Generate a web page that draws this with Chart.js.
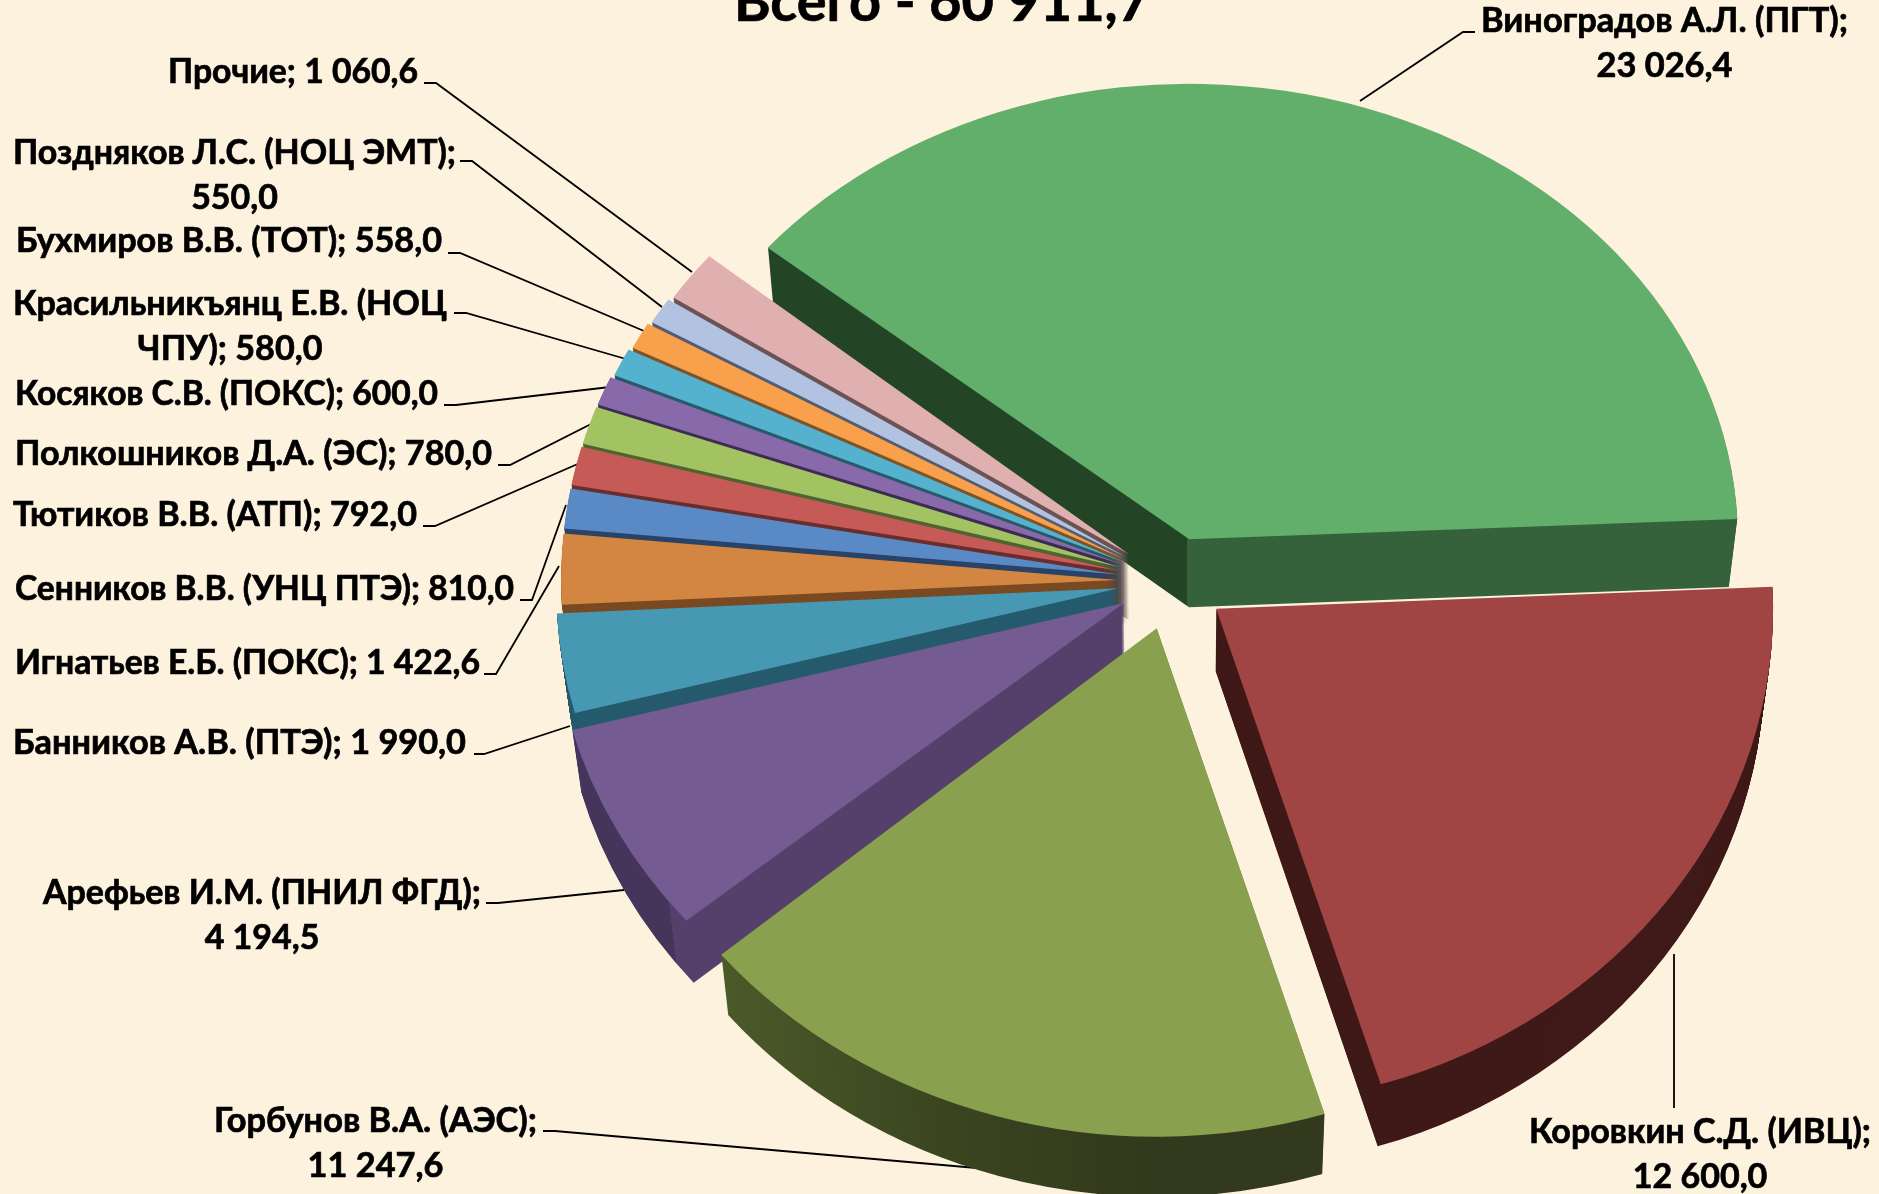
<!DOCTYPE html>
<html>
<head>
<meta charset="utf-8">
<style>
  html, body { margin: 0; padding: 0; background: #fdf2de; overflow: hidden; }
  canvas { display: block; }
</style>
<script src="https://cdn.jsdelivr.net/npm/chart.js@4"></script>
</head>
<body>
<canvas id="myChart" width="1879" height="1194"></canvas>
<script>
  // Chart data
  const categories = ['Виноградов А.Л. (ПГТ)', 'Коровкин С.Д. (ИВЦ)', 'Горбунов В.А. (АЭС)', 'Арефьев И.М. (ПНИЛ ФГД)',
    'Банников А.В. (ПТЭ)', 'Игнатьев Е.Б. (ПОКС)', 'Сенников В.В. (УНЦ ПТЭ)', 'Тютиков В.В. (АТП)',
    'Полкошников Д.А. (ЭС)', 'Косяков С.В. (ПОКС)', 'Красильникъянц Е.В. (НОЦ ЧПУ)', 'Бухмиров В.В. (ТОТ)',
    'Поздняков Л.С. (НОЦ ЭМТ)', 'Прочие'];
  const values = [23026.4, 12600.0, 11247.6, 4194.5, 1990.0, 1422.6, 810.0, 792.0, 780.0, 600.0, 580.0, 558.0, 550.0, 1060.6];
  const chartTitle = 'Всего - 60 911,7';

  // Slice colours
  const topColors = ['#62ae6b', '#a04543', '#89a14f', '#745b91', '#4798b3', '#d38542', '#5a8ac6',
    '#c55a57', '#a3c261', '#8869a9', '#55b2cf', '#f9a04c', '#b2c3e2', '#e0afaf'];
  const wallColors = ['#35623b', '#3f1a18', '#33391c', '#553f6b', '#265b6d', '#7a4a22', '#2a4468',
    '#6a2e2c', '#4f6530', '#3d2c55', '#275b6b', '#7f5428', '#545e70', '#6c5356'];
  // Walls that change colour across the picture: [canvas x, colour]
  const wallStops = {
    0: [[1187, '#234526'], [1187, '#35623b']],
    2: [[713, '#4c5b2a'], [950, '#3a4520'], [1150, '#33391c']],
    3: [[680, '#45355a'], [680, '#553f6b']]
  };

  // Where the pie sits and how it is tilted
  const explode = 54;
  const tiltMid = 0.865;
  const tiltRange = 0.05;
  const depthMid = 64;
  const depthRange = 4;
  const wallShrink = 0.015;
  // Perspective makes the far slices narrower than the near ones
  const sliceWidths = [0.985, 1, 1.02, 1.025, 1.01, 1, 1, 1, 1, 1, 0.995, 0.99, 0.985, 0.98];
  const drawOrder = [0, 13, 12, 11, 10, 9, 8, 7, 6, 5, 4, 3, 2, 1];

  // Label layout: left, right, first baseline, break text (same order as categories)
  const labelBoxes = [
    [1481, 1848, 32, '; '], [1529, 1871, 1143, '; '], [214, 537, 1132, '; '], [43, 481, 904, '; '],
    [13, 466, 754], [15, 480, 674], [15, 514, 600], [13, 417, 526], [15, 492, 465], [15, 438, 405],
    [13, 447, 315, 'НОЦ '], [16, 442, 252], [13, 456, 164, '; '], [168, 418, 83]
  ];
  // Leader lines: points of each polyline
  const leaders = [
    [[1475, 32], [1463, 32], [1360, 101]], [[1674, 1108], [1674, 954]], [[543, 1131], [555, 1131], [988, 1169]],
    [[486, 903], [498, 903], [624, 890]], [[474, 754], [484, 754], [570, 726]], [[484, 674], [496, 674], [559, 566]],
    [[520, 600], [532, 600], [566, 505]], [[423, 526], [435, 526], [580, 463]], [[498, 465], [510, 465], [595, 422]],
    [[444, 405], [456, 405], [610, 387]], [[454, 313], [466, 313], [626, 359]], [[448, 253], [460, 253], [644, 331]],
    [[460, 161], [472, 161], [662, 307]], [[424, 83], [436, 83], [692, 272]]
  ];

  // Format 1060.6 as 1 060,6
  function formatValue(v) {
    const parts = v.toFixed(1).split('.');
    return parts[0].replace(/\B(?=(\d{3})+$)/g, ' ') + ',' + parts[1];
  }

  function labelLines(i) {
    const text = categories[i] + '; ' + formatValue(values[i]);
    const brk = labelBoxes[i][3];
    if (!brk) return [text];
    const at = text.indexOf(brk) + brk.length - 1;
    return [text.slice(0, at), text.slice(at + 1)];
  }

  function wallFill(ctx, i, dx) {
    const stops = wallStops[i];
    if (!stops) return wallColors[i];
    const w = ctx.canvas.width;
    const g = ctx.createLinearGradient(-dx, 0, w - dx, 0);
    stops.forEach(s => g.addColorStop(s[0] / w, s[1]));
    return g;
  }

  // Draws one arc of the library with the pie tilt applied
  function drawSlice(ctx, arc, i) {
    const mid = (arc.startAngle + arc.endAngle) / 2;
    const k = tiltMid + tiltRange * Math.sin(mid);
    const depth = Math.round(depthMid - depthRange * Math.sin(mid));
    const dx = Math.cos(mid) * explode;
    const dy = Math.sin(mid) * explode;
    const topOptions = arc.options;

    arc.options = Object.assign({}, topOptions, { backgroundColor: wallFill(ctx, i, dx) });
    for (let s = depth; s >= 0; s--) {
      if (s === 0) arc.options = topOptions;
      const xs = 1 - wallShrink * s / depth;
      ctx.save();
      ctx.translate(arc.x, arc.y + s);
      ctx.scale(xs, k);
      ctx.translate(dx, dy);
      ctx.scale(sliceWidths[i], 1);
      ctx.translate(-arc.x, -arc.y);
      arc.draw(ctx);
      ctx.restore();
    }
  }

  const tiltedPie = {
    id: 'tiltedPie',
    beforeDatasetDraw(chart) {
      const ctx = chart.ctx;
      const arcs = chart.getDatasetMeta(0).data;

      // Leader lines go under the slices
      ctx.save();
      ctx.strokeStyle = '#000';
      ctx.lineWidth = 1.8;
      leaders.forEach(pts => {
        ctx.beginPath();
        pts.forEach((p, n) => n ? ctx.lineTo(p[0], p[1]) : ctx.moveTo(p[0], p[1]));
        ctx.stroke();
      });
      ctx.restore();

      drawOrder.forEach(i => drawSlice(ctx, arcs[i], i));

      // Data labels
      ctx.save();
      ctx.fillStyle = '#000';
      ctx.strokeStyle = '#000';
      ctx.lineWidth = 0.7;
      ctx.font = 'bold 34px Lato';
      ctx.textAlign = 'center';
      ctx.textBaseline = 'alphabetic';
      categories.forEach((c, i) => {
        const box = labelBoxes[i];
        const lines = labelLines(i);
        const widest = Math.max(...lines.map(l => ctx.measureText(l).width));
        const sx = (box[1] - box[0]) / widest;
        lines.forEach((line, n) => {
          ctx.save();
          ctx.translate((box[0] + box[1]) / 2, box[2] + n * 45);
          ctx.scale(sx, 1);
          ctx.fillText(line, 0, 0);
          ctx.strokeText(line, 0, 0);
          ctx.restore();
        });
      });

      // Title is cut by the top edge, as in the slide
      ctx.font = 'bold 56px Lato';
      ctx.fillText(chartTitle, 942, 21, 416);
      ctx.strokeText(chartTitle, 942, 21, 416);
      ctx.restore();
      return false;
    }
  };

  new Chart(document.getElementById('myChart'), {
    type: 'pie',
    data: {
      labels: categories,
      datasets: [{
        label: 'Всего',
        data: values,
        backgroundColor: topColors,
        borderWidth: 0
      }]
    },
    options: {
      responsive: false,
      animation: false,
      rotation: 309.8,
      radius: 557,
      layout: { padding: { left: 465, bottom: 32 } },
      plugins: {
        legend: { display: false },
        tooltip: { enabled: false }
      }
    },
    plugins: [tiltedPie]
  });
</script>
</body>
</html>
